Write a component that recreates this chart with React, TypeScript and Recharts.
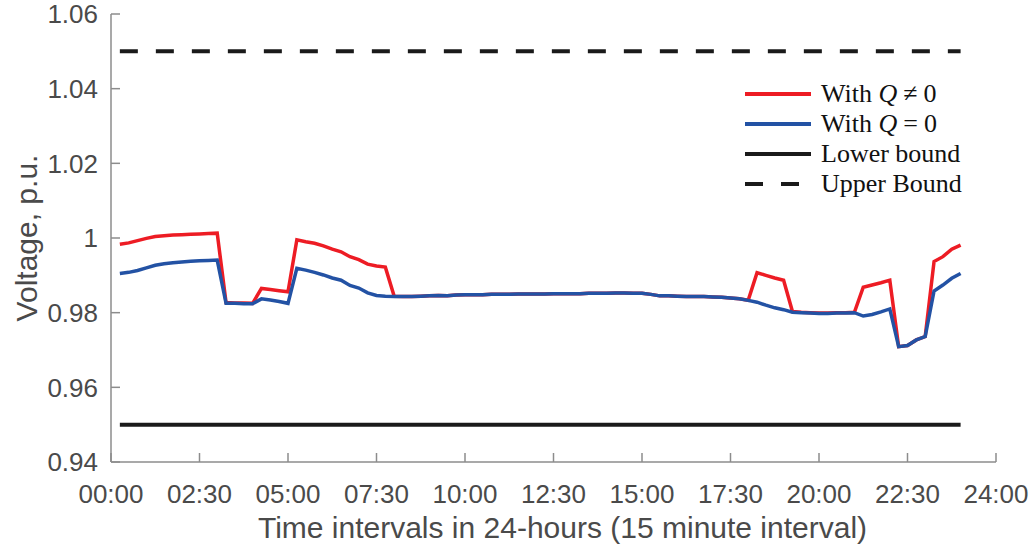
import { LineChart, Line, XAxis, YAxis, Legend } from "recharts";

// 15-minute sample index (1..96), plotted on a 0..100 axis like the original
const intervals = Array.from({ length: 96 }, (_, i) => i + 1);

// With Q != 0
const withQ = [
  0.9983, 0.9987, 0.9993, 0.9999, 1.0004, 1.0006, 1.0008, 1.0009, 1.001, 1.0011, 1.0012, 1.0013,
  0.9827, 0.9826, 0.9826, 0.9825, 0.9865, 0.9862, 0.9859, 0.9856, 0.9995, 0.999, 0.9986, 0.9979,
  0.997, 0.9963, 0.995, 0.9942, 0.993, 0.9925, 0.9922, 0.9844, 0.9843, 0.9843, 0.9844, 0.9845,
  0.9846, 0.9845, 0.9847, 0.9848, 0.9848, 0.9848, 0.9849, 0.9849, 0.9849, 0.985, 0.985, 0.985,
  0.985, 0.9851, 0.9851, 0.9851, 0.9851, 0.9852, 0.9852, 0.9852, 0.9853, 0.9853, 0.9852, 0.9852,
  0.9849, 0.9845, 0.9845, 0.9844, 0.9843, 0.9843, 0.9843, 0.9842, 0.9841, 0.9839, 0.9837, 0.9833,
  0.9907, 0.99, 0.9893, 0.9887, 0.9803, 0.9801, 0.98, 0.9799, 0.9799, 0.98, 0.98, 0.9801,
  0.9868, 0.9874, 0.988, 0.9887, 0.9709, 0.9712, 0.9727, 0.9736, 0.9937, 0.995, 0.997, 0.9981,
];

// With Q = 0
const withoutQ = [
  0.9905, 0.9908, 0.9913, 0.992, 0.9927, 0.9931, 0.9934, 0.9936, 0.9938, 0.9939, 0.994, 0.9941,
  0.9825, 0.9825, 0.9824, 0.9824, 0.9837, 0.9834, 0.983, 0.9825, 0.9919, 0.9914, 0.9908, 0.9901,
  0.9893, 0.9887, 0.9873, 0.9866, 0.9853, 0.9846, 0.9844, 0.9843, 0.9843, 0.9843, 0.9844, 0.9845,
  0.9846, 0.9845, 0.9847, 0.9848, 0.9848, 0.9848, 0.9849, 0.9849, 0.9849, 0.985, 0.985, 0.985,
  0.985, 0.9851, 0.9851, 0.9851, 0.9851, 0.9852, 0.9852, 0.9852, 0.9853, 0.9853, 0.9852, 0.9852,
  0.9849, 0.9845, 0.9845, 0.9844, 0.9843, 0.9843, 0.9843, 0.9842, 0.9841, 0.9839, 0.9837, 0.9833,
  0.9828, 0.982, 0.9813, 0.9808, 0.9801, 0.98, 0.9799, 0.9798, 0.9798, 0.9799, 0.9799, 0.98,
  0.9791, 0.9795, 0.9802, 0.981, 0.9709, 0.9712, 0.9727, 0.9736, 0.9858, 0.9874, 0.9892, 0.9905,
];

const lowerBound = 0.95;
const upperBound = 1.05;

const xTicks = [0, 10, 20, 30, 40, 50, 60, 70, 80, 90, 100];
const xTickLabels = ["00:00", "02:30", "05:00", "07:30", "10:00", "12:30", "15:00", "17:30", "20:00", "22:30", "24:00"];
const yTicks = [0.94, 0.96, 0.98, 1, 1.02, 1.04, 1.06];
const yTickLabels = ["0.94", "0.96", "0.98", "1", "1.02", "1.04", "1.06"];

const data = intervals.map((t, k) => ({
  t,
  withQ: withQ[k],
  withoutQ: withoutQ[k],
  lower: lowerBound,
  upper: upperBound,
}));

const axisColor = "#8c8c8c";
const textColor = "#4a4a4a";
const tickLen = 9;
const tickFont = "'Liberation Sans', Arial, sans-serif";

const BottomTick = (props: any) => {
  const { x, y, index } = props;
  return (
    <g>
      <line x1={x} x2={x} y1={y} y2={y - tickLen} stroke={axisColor} strokeWidth={1.5} />
      <text x={x} y={y + 41} textAnchor="middle" fontSize={26} fontFamily={tickFont} fill={textColor}>
        {xTickLabels[index]}
      </text>
    </g>
  );
};

const TopTick = (props: any) => {
  const { x, y } = props;
  return <line x1={x} x2={x} y1={y} y2={y + tickLen} stroke={axisColor} strokeWidth={1.5} />;
};

const LeftTick = (props: any) => {
  const { x, y, index } = props;
  return (
    <g>
      <line x1={x} x2={x + tickLen} y1={y} y2={y} stroke={axisColor} strokeWidth={1.5} />
      <text x={x - 13} y={y} dy="0.36em" textAnchor="end" fontSize={26} fontFamily={tickFont} fill={textColor}>
        {yTickLabels[index]}
      </text>
    </g>
  );
};

const RightTick = (props: any) => {
  const { x, y } = props;
  return <line x1={x} x2={x - tickLen} y1={y} y2={y} stroke={axisColor} strokeWidth={1.5} />;
};

const op = { margin: "0 6px" };

const legendItems = [
  { key: "withQ", color: "#ed1c24", dash: undefined, label: <>With <i>Q</i><span style={op}>≠</span>0</> },
  { key: "withoutQ", color: "#2352a4", dash: undefined, label: <>With <i>Q</i><span style={op}>=</span>0</> },
  { key: "lower", color: "#1a1a1a", dash: undefined, label: <>Lower bound</> },
  { key: "upper", color: "#1a1a1a", dash: "18 18", label: <>Upper Bound</> },
];

const LegendBox = () => (
  <div style={{ fontFamily: "'Liberation Serif', 'Times New Roman', serif", fontSize: 26, color: "#111" }}>
    {legendItems.map((item) => (
      <div key={item.key} style={{ display: "flex", alignItems: "center", height: 30, whiteSpace: "nowrap" }}>
        <svg width={66} height={8} style={{ display: "block" }}>
          <line x1={0} x2={66} y1={4} y2={4} stroke={item.color} strokeWidth={4} strokeDasharray={item.dash} />
        </svg>
        <span style={{ marginLeft: 10 }}>{item.label}</span>
      </div>
    ))}
  </div>
);

export default function App() {
  return (
    <div style={{ position: "absolute", left: 0, top: 0, background: "#fff" }}>
      <LineChart width={1034} height={548} data={data} margin={{ top: 14, right: 38, bottom: 0, left: 0 }}>
        <XAxis
          dataKey="t"
          type="number"
          domain={[0, 100]}
          ticks={xTicks}
          interval={0}
          tick={BottomTick}
          tickLine={false}
          tickSize={0}
          tickMargin={0}
          height={86}
          axisLine={{ stroke: axisColor, strokeWidth: 1.5 }}
          label={{
            value: "Time intervals in 24-hours (15 minute interval)",
            position: "insideBottom",
            offset: 10,
            dx: 9,
            fontSize: 30,
            fontFamily: tickFont,
            fill: textColor,
          }}
        />
        <XAxis
          xAxisId="top"
          orientation="top"
          dataKey="t"
          type="number"
          domain={[0, 100]}
          ticks={xTicks}
          interval={0}
          tick={TopTick}
          tickLine={false}
          tickSize={0}
          tickMargin={0}
          height={0}
          axisLine={{ stroke: axisColor, strokeWidth: 1.5 }}
        />
        <YAxis
          type="number"
          domain={[0.94, 1.06]}
          ticks={yTicks}
          interval={0}
          tick={LeftTick}
          tickLine={false}
          tickSize={0}
          tickMargin={0}
          width={111}
          axisLine={{ stroke: axisColor, strokeWidth: 1.5 }}
          label={{
            value: "Voltage, p.u.",
            angle: -90,
            position: "insideLeft",
            offset: 26,
            fontSize: 30,
            fontFamily: tickFont,
            fill: textColor,
            style: { textAnchor: "middle" },
          }}
        />
        <YAxis
          yAxisId="right"
          orientation="right"
          type="number"
          domain={[0.94, 1.06]}
          ticks={yTicks}
          interval={0}
          tick={RightTick}
          tickLine={false}
          tickSize={0}
          tickMargin={0}
          width={0}
          axisLine={{ stroke: axisColor, strokeWidth: 1.5 }}
        />
        <Legend
          layout="horizontal"
          verticalAlign="middle"
          align="center"
          wrapperStyle={{ left: 745, top: 79, width: 270 }}
          content={LegendBox}
        />
        <Line
          dataKey="lower"
          stroke="#1a1a1a"
          strokeWidth={4}
          dot={false}
          isAnimationActive={false}
        />
        <Line
          dataKey="upper"
          xAxisId="top"
          yAxisId="right"
          stroke="#1a1a1a"
          strokeWidth={4}
          strokeDasharray="18 18"
          dot={false}
          isAnimationActive={false}
        />
        <Line
          dataKey="withQ"
          stroke="#ed1c24"
          strokeWidth={3.5}
          dot={false}
          isAnimationActive={false}
        />
        <Line
          dataKey="withoutQ"
          stroke="#2352a4"
          strokeWidth={3.5}
          dot={false}
          isAnimationActive={false}
        />
      </LineChart>
    </div>
  );
}
